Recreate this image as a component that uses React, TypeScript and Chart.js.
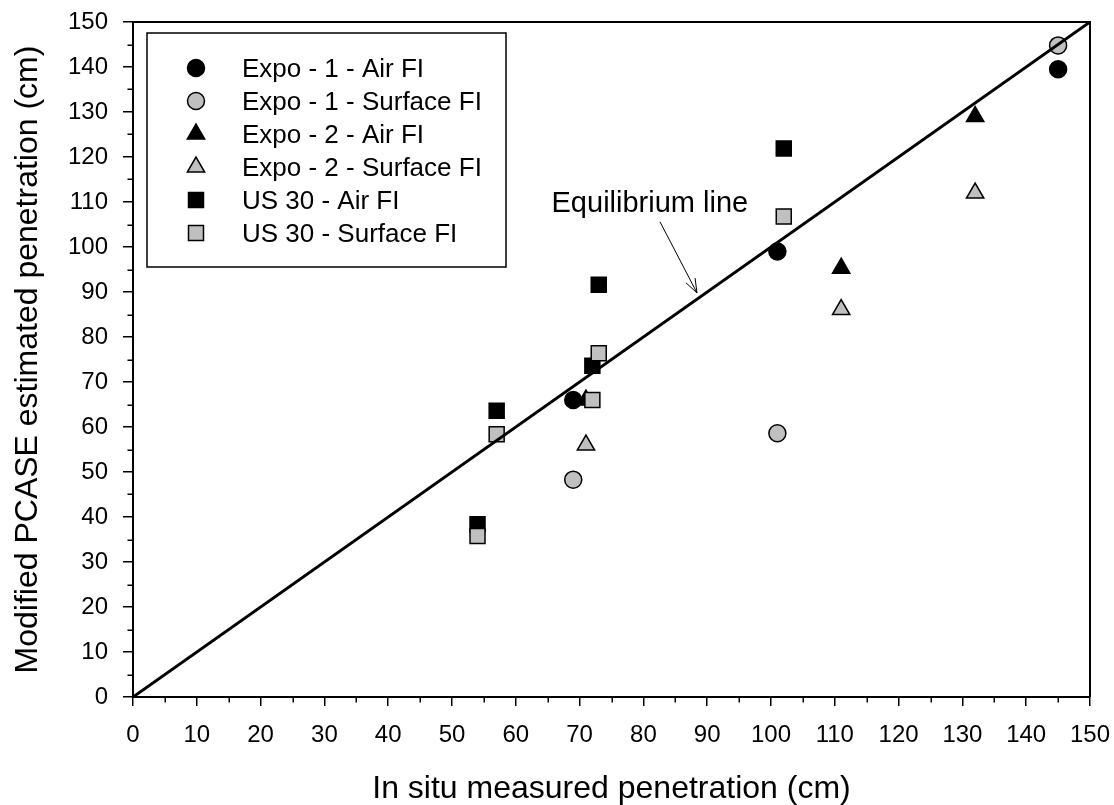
import React, { useEffect, useRef } from "react";
import { Chart, registerables } from "chart.js";

Chart.register(...registerables);

// ---- Data ----
const expo1AirX = [69, 101, 145];
const expo1AirY = [66, 99, 139.5];
const expo1SurfX = [69, 101, 145];
const expo1SurfY = [48.3, 58.6, 144.8];
const expo2AirX = [71, 111, 132];
const expo2AirY = [66, 95.3, 129];
const expo2SurfX = [71, 111, 132];
const expo2SurfY = [56, 86.1, 112];
const us30AirX = [54, 57, 72, 73, 102];
const us30AirY = [38.4, 63.6, 73.6, 91.6, 121.9];
const us30SurfX = [54, 57, 72, 73, 102];
const us30SurfY = [35.8, 58.4, 66, 76.4, 106.8];
const equilibriumX = [0, 150];
const equilibriumY = [0, 150];

const seriesLabels = [
  "Expo - 1 - Air FI",
  "Expo - 1 - Surface FI",
  "Expo - 2 - Air FI",
  "Expo - 2 - Surface FI",
  "US 30 - Air FI",
  "US 30 - Surface FI",
];
const xTitle = "In situ measured penetration (cm)";
const yTitle = "Modified PCASE estimated penetration (cm)";
const annotationText = "Equilibrium line";
const annotationTextAt = [65.6, 107.8];
const arrowFrom = [82.6, 105.6];
const arrowTo = [88.4, 89.8];

const FONT = "'Liberation Sans', Arial, sans-serif";
const GRAY = "#c0c0c0";
const BLACK = "#000000";

const zip = (xs: number[], ys: number[]) => xs.map((x, i) => ({ x, y: ys[i] }));

const styles = [
  { pointStyle: "circle", radius: 8.5, fill: BLACK },
  { pointStyle: "circle", radius: 8.5, fill: GRAY },
  { pointStyle: "triangle", radius: 10, fill: BLACK },
  { pointStyle: "triangle", radius: 10, fill: GRAY },
  { pointStyle: "rect", radius: 10.6, fill: BLACK },
  { pointStyle: "rect", radius: 10.6, fill: GRAY },
];

function drawMarker(ctx: CanvasRenderingContext2D, style: string, r: number, x: number, y: number, fill: string) {
  ctx.save();
  ctx.beginPath();
  if (style === "circle") {
    ctx.arc(x, y, r, 0, Math.PI * 2);
  } else if (style === "triangle") {
    const s = Math.sin((2 * Math.PI) / 3) * r;
    ctx.moveTo(x, y - r);
    ctx.lineTo(x + s, y + r / 2);
    ctx.lineTo(x - s, y + r / 2);
    ctx.closePath();
  } else {
    const h = Math.SQRT1_2 * r;
    ctx.rect(x - h, y - h, 2 * h, 2 * h);
  }
  ctx.fillStyle = fill;
  ctx.fill();
  ctx.lineWidth = 1.5;
  ctx.strokeStyle = BLACK;
  ctx.stroke();
  ctx.restore();
}

const decorPlugin = {
  id: "decor",
  afterDraw(chart: any) {
    const { ctx, chartArea, scales } = chart;
    const xs = scales.x;
    const ys = scales.y;
    ctx.save();
    // frame top & right
    ctx.strokeStyle = BLACK;
    ctx.lineWidth = 2;
    ctx.beginPath();
    ctx.moveTo(chartArea.left, chartArea.top);
    ctx.lineTo(chartArea.right, chartArea.top);
    ctx.lineTo(chartArea.right, chartArea.bottom);
    ctx.stroke();

    // minor ticks
    ctx.lineWidth = 1.5;
    ctx.beginPath();
    for (let v = 5; v < 150; v += 10) {
      const px = Math.round(xs.getPixelForValue(v)) + 0.25;
      ctx.moveTo(px, chartArea.bottom);
      ctx.lineTo(px, chartArea.bottom + 5.5);
      const py = Math.round(ys.getPixelForValue(v)) + 0.25;
      ctx.moveTo(chartArea.left, py);
      ctx.lineTo(chartArea.left - 5.5, py);
    }
    ctx.stroke();

    // axis titles
    ctx.fillStyle = BLACK;
    ctx.font = `32px ${FONT}`;
    ctx.textAlign = "center";
    ctx.textBaseline = "alphabetic";
    ctx.fillText(xTitle, (chartArea.left + chartArea.right) / 2, 798);
    ctx.save();
    ctx.translate(37, (chartArea.top + chartArea.bottom) / 2);
    ctx.rotate(-Math.PI / 2);
    ctx.fillText(yTitle, 0, 0);
    ctx.restore();

    // annotation
    ctx.font = `29px ${FONT}`;
    ctx.textAlign = "left";
    ctx.fillText(annotationText, xs.getPixelForValue(annotationTextAt[0]), ys.getPixelForValue(annotationTextAt[1]));
    const ax0 = xs.getPixelForValue(arrowFrom[0]);
    const ay0 = ys.getPixelForValue(arrowFrom[1]);
    const ax1 = xs.getPixelForValue(arrowTo[0]);
    const ay1 = ys.getPixelForValue(arrowTo[1]);
    ctx.lineWidth = 1;
    ctx.beginPath();
    ctx.moveTo(ax0, ay0);
    ctx.lineTo(ax1, ay1);
    const ang = Math.atan2(ay1 - ay0, ax1 - ax0);
    const hl = 15;
    const ha = 0.35;
    ctx.moveTo(ax1 - hl * Math.cos(ang - ha), ay1 - hl * Math.sin(ang - ha));
    ctx.lineTo(ax1, ay1);
    ctx.lineTo(ax1 - hl * Math.cos(ang + ha), ay1 - hl * Math.sin(ang + ha));
    ctx.stroke();

    // legend
    ctx.lineWidth = 1.5;
    ctx.strokeRect(147, 33, 359, 234);
    ctx.font = `26px ${FONT}`;
    ctx.textAlign = "left";
    seriesLabels.forEach((label, i) => {
      const baseY = 77 + 33 * i;
      const st = styles[i];
      drawMarker(ctx, st.pointStyle, st.radius, 196, baseY - 9, st.fill);
      ctx.fillStyle = BLACK;
      ctx.fillText(label, 242, baseY);
    });
    ctx.restore();
  },
};

export default function App() {
  const canvasRef = useRef<HTMLCanvasElement | null>(null);

  useEffect(() => {
    if (!canvasRef.current) return;
    const pointSets = [
      zip(expo1AirX, expo1AirY),
      zip(expo1SurfX, expo1SurfY),
      zip(expo2AirX, expo2AirY),
      zip(expo2SurfX, expo2SurfY),
      zip(us30AirX, us30AirY),
      zip(us30SurfX, us30SurfY),
    ];
    const datasets: any[] = pointSets.map((data, i) => ({
      label: seriesLabels[i],
      data,
      pointStyle: styles[i].pointStyle,
      pointRadius: styles[i].radius,
      pointHoverRadius: styles[i].radius,
      backgroundColor: styles[i].fill,
      borderColor: BLACK,
      borderWidth: 1.5,
      showLine: false,
      order: 6 - i,
    }));
    datasets.push({
      label: "Equilibrium line",
      data: zip(equilibriumX, equilibriumY),
      showLine: true,
      pointRadius: 0,
      borderColor: BLACK,
      borderWidth: 3,
      backgroundColor: BLACK,
      order: 0,
    });

    const tickFont = { family: FONT, size: 24 };
    const zeroPad = (s: any) => {
      s.paddingTop = 0;
      s.paddingRight = 0;
      s.paddingLeft = 0;
      s.paddingBottom = 0;
    };
    const chart = new Chart(canvasRef.current, {
      type: "scatter",
      data: { datasets },
      options: {
        animation: false,
        responsive: false,
        maintainAspectRatio: false,
        layout: { padding: { top: 22, right: 24, left: 0, bottom: 0 } },
        plugins: {
          legend: { display: false },
          tooltip: { enabled: false },
          title: { display: false },
        },
        scales: {
          x: {
            type: "linear",
            min: 0,
            max: 150,
            ticks: { stepSize: 10, color: BLACK, font: tickFont, padding: 15, maxRotation: 0, autoSkip: false },
            grid: { display: true, drawOnChartArea: false, drawTicks: true, tickLength: 9, color: BLACK, lineWidth: 1.5 },
            border: { display: true, color: BLACK, width: 2 },
            afterFit: (s: any) => {
              s.height = 108;
              zeroPad(s);
            },
          },
          y: {
            type: "linear",
            min: 0,
            max: 150,
            ticks: { stepSize: 10, color: BLACK, font: tickFont, padding: 15, autoSkip: false },
            grid: { display: true, drawOnChartArea: false, drawTicks: true, tickLength: 10, color: BLACK, lineWidth: 1.5 },
            border: { display: true, color: BLACK, width: 2 },
            afterFit: (s: any) => {
              s.width = 133;
              zeroPad(s);
            },
          },
        },
      } as any,
      plugins: [decorPlugin],
    });
    return () => chart.destroy();
  }, []);

  return (
    <div style={{ position: "absolute", left: 0, top: 0, width: 1114, height: 805, background: "#fff", overflow: "hidden" }}>
      <canvas ref={canvasRef} width={1114} height={805} style={{ display: "block" }} />
    </div>
  );
}
